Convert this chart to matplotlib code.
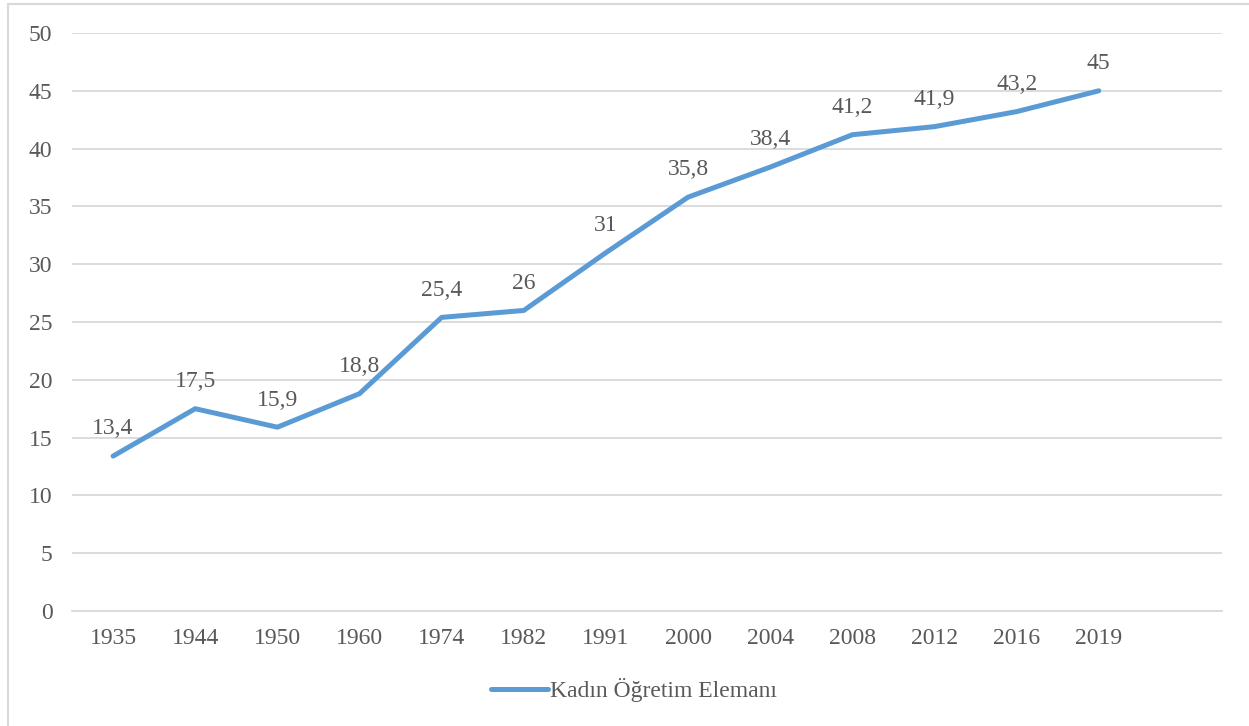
import matplotlib
matplotlib.use("Agg")
import matplotlib.pyplot as plt
from matplotlib.patches import Rectangle

years = ["1935", "1944", "1950", "1960", "1974", "1982", "1991", "2000",
         "2004", "2008", "2012", "2016", "2019"]
values = [13.4, 17.5, 15.9, 18.8, 25.4, 26, 31, 35.8, 38.4, 41.2, 41.9, 43.2, 45]
labels = ["13,4", "17,5", "15,9", "18,8", "25,4", "26", "31", "35,8",
          "38,4", "41,2", "41,9", "43,2", "45"]
series_name = "Kadın Öğretim Elemanı"

plt.rcParams['font.family'] = ['Liberation Serif', 'DejaVu Serif']
txt = "#595959"
color = "#5B9BD5"

fig = plt.figure(figsize=(12.49, 7.26), dpi=100)
W, H = 1249, 726
ax = fig.add_axes([72 / W, 1 - 611 / H, (1222 - 72) / W, (611 - 33) / H])

x = list(range(len(years)))
line, = ax.plot(x, values, color=color, lw=3.6, solid_capstyle='round',
                solid_joinstyle='round', label=series_name)
for xi, v, lab in zip(x, values, labels):
    ax.annotate(lab, (xi, v), xytext=(0, 12), textcoords='offset points',
                ha='center', va='bottom', fontsize=17, color=txt)

ax.set_xlim(-0.5, len(years) + 0.5)
ax.set_ylim(0, 50)
ax.set_yticks(range(0, 51, 5))
ax.set_xticks(x)
ax.set_xticklabels(years)
ax.grid(axis='y', color='#D9D9D9', lw=1.3)
ax.set_axisbelow(True)
for s in ['top', 'right', 'left']:
    ax.spines[s].set_visible(False)
ax.spines['bottom'].set_color('#D9D9D9')
ax.spines['bottom'].set_linewidth(1.3)
ax.tick_params(axis='both', length=0, labelsize=17, labelcolor=txt)
ax.tick_params(axis='y', pad=14)
ax.tick_params(axis='x', pad=12)

fig.legend(handles=[line], loc='center', bbox_to_anchor=(634 / W, 1 - 690 / H),
           frameon=False, fontsize=17, labelcolor=txt, handlelength=2.4,
           handletextpad=0.1)

fig.patches.append(Rectangle((8 / W, -0.01), 1.05, 1 - 4 / H + 0.01,
                             transform=fig.transFigure, fill=False,
                             edgecolor='#D9D9D9', lw=1.5))

fig.savefig("out.png", dpi=100)
